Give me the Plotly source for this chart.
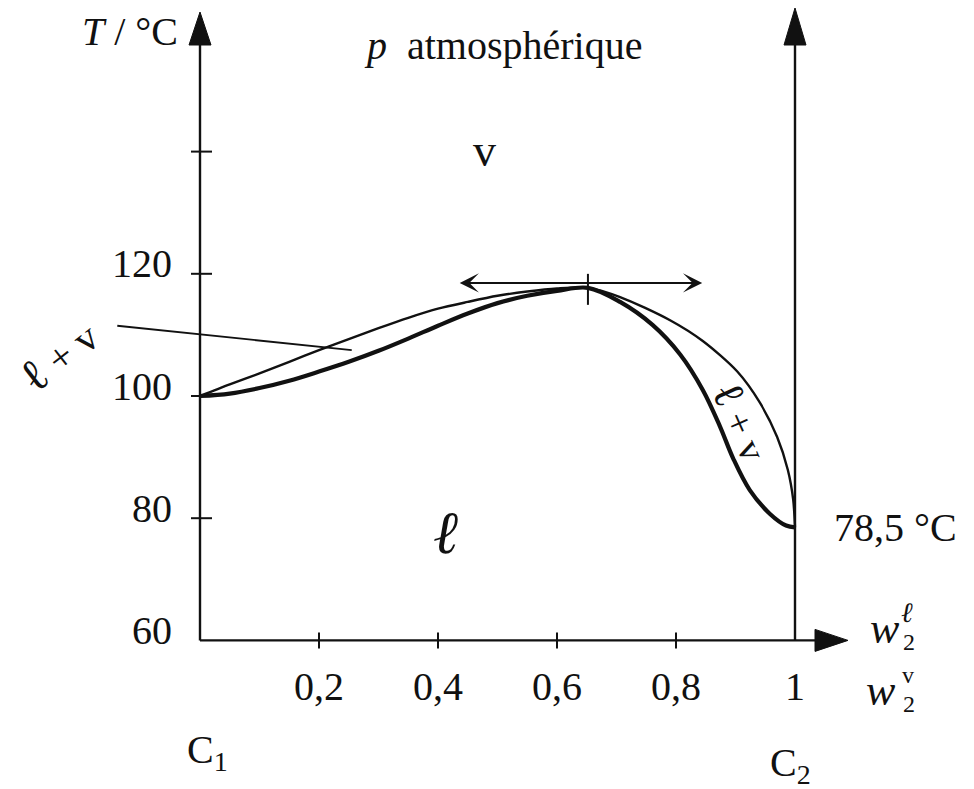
import plotly.graph_objects as go

# ---------------- data ----------------
# boiling curve (liquid, thick line): w2(liquid) vs T
x_liquid = [0, 0.05, 0.1, 0.15, 0.2, 0.25, 0.3, 0.35, 0.4, 0.45, 0.5, 0.55, 0.6, 0.652,
            0.706, 0.761, 0.807, 0.845, 0.874, 0.896, 0.924, 0.958, 0.985, 1.0]
T_liquid = [100, 100.4, 101.3, 102.5, 104.0, 105.6, 107.4, 109.4, 111.5, 113.5, 115.2, 116.4, 117.2, 117.7,
            115.4, 111.6, 106.8, 101.0, 95.0, 89.8, 84.6, 80.7, 78.8, 78.5]
# dew curve (vapour, thin line): w2(vapour) vs T
x_vapor = [0, 0.05, 0.1, 0.15, 0.2, 0.25, 0.3, 0.35, 0.4, 0.45, 0.5, 0.55, 0.6, 0.652,
           0.706, 0.79, 0.845, 0.903, 0.941, 0.97, 0.988, 0.997, 1.0]
T_vapor = [100, 101.9, 103.7, 105.6, 107.5, 109.3, 111.1, 112.8, 114.3, 115.4, 116.4, 117.1, 117.6, 117.7,
           116.2, 112.4, 109.0, 104.0, 98.9, 93.3, 87.9, 83.0, 78.5]
azeo_x = 0.652
azeo_T = 117.7
T_C2 = 78.5
T_C2_label = "78,5 °C"

x_ticks = [0.2, 0.4, 0.6, 0.8]
x_tick_labels_vals = [0.2, 0.4, 0.6, 0.8, 1]
x_tick_labels = ["0,2", "0,4", "0,6", "0,8", "1"]
y_tick_vals = [80, 100, 120, 140]
y_label_vals = [60, 80, 100, 120]
y_labels = ["60", "80", "100", "120"]
T_axis_min = 60

# tangent/double arrow at the azeotrope
arrow_T = 118.5
arrow_x_left = 0.434
arrow_x_right = 0.844
# leader line for the left "l + v" label
leader_x = [-0.139, 0.255]
leader_T = [111.5, 107.5]

# ---------------- geometry ----------------
W, H = 974, 789
X0_PX, X_SCALE = 200, 595.0      # pixel of x=0, pixels per unit
Y100_PX, Y_SCALE = 396, 6.11     # pixel of T=100, pixels per degree
x_range = [-X0_PX / X_SCALE, (W - X0_PX) / X_SCALE]
y_range = [100 - (H - Y100_PX) / Y_SCALE, 100 + Y100_PX / Y_SCALE]


def px_x(p):
    return (p - X0_PX) / X_SCALE


def px_y(p):
    return 100 + (Y100_PX - p) / Y_SCALE


def dx(p):
    return p / X_SCALE


def dy(p):
    return p / Y_SCALE


FONT = "Liberation Serif, Times New Roman, serif"
INK = "#111111"

fig = go.Figure()

fig.add_trace(go.Scatter(x=x_vapor, y=T_vapor, mode="lines",
                         line=dict(color=INK, width=2.4, shape="spline", smoothing=0.8),
                         hoverinfo="skip", showlegend=False))
fig.add_trace(go.Scatter(x=x_liquid, y=T_liquid, mode="lines",
                         line=dict(color=INK, width=4.2, shape="spline", smoothing=1.0),
                         hoverinfo="skip", showlegend=False))
fig.add_trace(go.Scatter(x=leader_x, y=leader_T, mode="lines",
                         line=dict(color=INK, width=1.8),
                         hoverinfo="skip", showlegend=False))

shapes = []
line_w = 2.4
y_tip = px_y(12)
y_base = px_y(45)
y_tip_r = px_y(8)
x_tip = px_x(848)
x_base = px_x(815)
# y axis
shapes.append(dict(type="line", xref="x", yref="y", x0=0, x1=0, y0=T_axis_min, y1=y_base,
                   line=dict(color=INK, width=line_w)))
shapes.append(dict(type="path", xref="x", yref="y",
                   path=f"M {-dx(11)},{y_base} L {dx(11)},{y_base} L 0,{y_tip} Z",
                   fillcolor=INK, line=dict(color=INK, width=1)))
# right axis at x = 1
shapes.append(dict(type="line", xref="x", yref="y", x0=1, x1=1, y0=T_axis_min, y1=y_base,
                   line=dict(color=INK, width=line_w)))
shapes.append(dict(type="path", xref="x", yref="y",
                   path=f"M {1 - dx(11)},{y_base} L {1 + dx(11)},{y_base} L 1,{y_tip_r} Z",
                   fillcolor=INK, line=dict(color=INK, width=1)))
# x axis
shapes.append(dict(type="line", xref="x", yref="y", x0=0, x1=x_base, y0=T_axis_min, y1=T_axis_min,
                   line=dict(color=INK, width=line_w)))
shapes.append(dict(type="path", xref="x", yref="y",
                   path=f"M {x_base},{T_axis_min - dy(11)} L {x_base},{T_axis_min + dy(11)} L {x_tip},{T_axis_min} Z",
                   fillcolor=INK, line=dict(color=INK, width=1)))
# ticks
for v in y_tick_vals:
    shapes.append(dict(type="line", xref="x", yref="y", x0=-dx(9), x1=dx(12), y0=v, y1=v,
                       line=dict(color=INK, width=2)))
for v in x_ticks:
    shapes.append(dict(type="line", xref="x", yref="y", x0=v, x1=v,
                       y0=T_axis_min - dy(8), y1=T_axis_min + dy(8),
                       line=dict(color=INK, width=2)))
# azeotrope marker
shapes.append(dict(type="line", xref="x", yref="y", x0=azeo_x, x1=azeo_x,
                   y0=azeo_T - dy(17), y1=azeo_T + dy(14), line=dict(color=INK, width=2)))

annotations = []


def txt(x, y, text, size=40, xanchor="center", yanchor="middle", angle=0, xshift=0, yshift=0):
    annotations.append(dict(x=x, y=y, xref="x", yref="y", text=text, showarrow=False,
                            xanchor=xanchor, yanchor=yanchor, textangle=angle,
                            xshift=xshift, yshift=yshift,
                            font=dict(family=FONT, size=size, color=INK)))


# double arrow at azeotrope
annotations.append(dict(x=arrow_x_right, y=arrow_T, ax=arrow_x_left, ay=arrow_T,
                        xref="x", yref="y", axref="x", ayref="y", text="",
                        showarrow=True, arrowhead=3, startarrowhead=3, arrowside="end+start",
                        arrowsize=1.6, startarrowsize=1.6, arrowwidth=2, arrowcolor=INK))

# tick labels
for v, lab in zip(y_label_vals, y_labels):
    txt(px_x(174), v, lab, size=40, xanchor="right", yshift=10)
for v, lab in zip(x_tick_labels_vals, x_tick_labels):
    txt(v, T_axis_min, lab, size=40, yshift=-46)

# titles and region labels
txt(px_x(180), px_y(31), "<i>T</i> / °C", size=40, xanchor="right")
txt(px_x(362), px_y(45), "<i>p</i>\u00a0 atmosphérique", size=40, xanchor="left")
txt(px_x(484), px_y(150), "v", size=46)
txt(px_x(445), px_y(533), "<i>ℓ</i>", size=60)
txt(px_x(58), px_y(356), "<span style='font-size:46px'>ℓ</span> + v", size=40, angle=-38)
txt(px_x(741), px_y(421), "<span style='font-size:44px'>ℓ</span> + v", size=38, angle=66)
txt(px_x(832), T_C2, T_C2_label, size=40, xanchor="left")
txt(px_x(185), px_y(752), "C<sub>1</sub>", size=40, xanchor="left")
txt(px_x(768), px_y(765), "C<sub>2</sub>", size=40, xanchor="left")
# w2 labels
txt(px_x(885), px_y(628), "<i>w</i>", size=44)
txt(px_x(907), px_y(612), "<i>ℓ</i>", size=28)
txt(px_x(909), px_y(642), "2", size=24)
txt(px_x(881), px_y(690), "<i>w</i>", size=44)
txt(px_x(908), px_y(675), "v", size=24)
txt(px_x(909), px_y(704), "2", size=24)

fig.update_layout(
    width=W, height=H,
    margin=dict(l=0, r=0, t=0, b=0),
    paper_bgcolor="white", plot_bgcolor="white",
    xaxis=dict(range=x_range, visible=False, fixedrange=True),
    yaxis=dict(range=y_range, visible=False, fixedrange=True),
    shapes=shapes, annotations=annotations, showlegend=False,
)

fig.write_html("out.html")
